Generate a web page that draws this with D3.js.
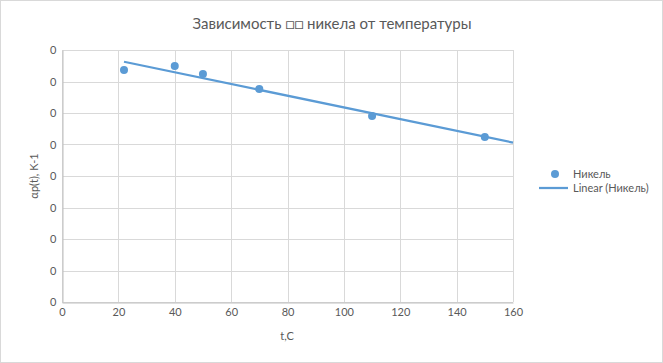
<!DOCTYPE html>
<html>
<head>
<meta charset="utf-8">
<script src="https://cdn.jsdelivr.net/npm/d3@7"></script>
<style>
  body { margin: 0; background: #fff; }
  svg text { font-family: Lato, "Open Sans", sans-serif; fill: #595959; }
</style>
</head>
<body>
<div id="chart"></div>
<script>
// data (values in K-1)
var temps = [22, 40, 50, 70, 110, 150];
var alphas = [14.73e-6, 14.98e-6, 14.48e-6, 13.52e-6, 11.81e-6, 10.48e-6];
var xTicks = [0, 20, 40, 60, 80, 100, 120, 140, 160];
var yTicks = [0, 2e-6, 4e-6, 6e-6, 8e-6, 10e-6, 12e-6, 14e-6, 16e-6];
var seriesName = "Никель";
var trendName = "Linear (Никель)";

var width = 663, height = 363;
var margin = {left: 62, right: 150, top: 50, bottom: 61};
var blue = "#5b9bd5";

var svg = d3.select("#chart").append("svg")
    .attr("width", width)
    .attr("height", height);

// chart border
svg.append("rect")
    .attr("x", 0.5).attr("y", 0.5)
    .attr("width", width - 1).attr("height", height - 1)
    .attr("fill", "#fff")
    .attr("stroke", "#d9d9d9");

var x = d3.scaleLinear().domain([0, 160]).range([margin.left, width - margin.right + 0]);
x.range([62, 513]);
var y = d3.scaleLinear().domain([0, 16e-6]).range([302, 50]);

// gridlines
svg.append("g").selectAll("line.h")
    .data(yTicks)
    .enter().append("line")
    .attr("x1", x(0)).attr("x2", x(160))
    .attr("y1", function (d) { return Math.round(y(d)) + 0.5; })
    .attr("y2", function (d) { return Math.round(y(d)) + 0.5; })
    .attr("stroke", "#d9d9d9");

svg.append("g").selectAll("line.v")
    .data(xTicks)
    .enter().append("line")
    .attr("y1", y(0)).attr("y2", y(16e-6))
    .attr("x1", function (d) { return Math.round(x(d)) + 0.5; })
    .attr("x2", function (d) { return Math.round(x(d)) + 0.5; })
    .attr("stroke", "#d9d9d9");

// axes
var xAxis = svg.append("g")
    .attr("transform", "translate(0," + (Math.round(y(0)) + 0.5) + ")")
    .call(d3.axisBottom(x).tickValues(xTicks).tickSize(0).tickPadding(6));
var yAxis = svg.append("g")
    .attr("transform", "translate(" + (Math.round(x(0)) + 0.5) + ",0)")
    .call(d3.axisLeft(y).tickValues(yTicks).tickFormat(d3.format(".0f")).tickSize(0).tickPadding(6));

[xAxis, yAxis].forEach(function (a) {
    a.select(".domain").attr("stroke", "#bfbfbf");
    a.selectAll("text").attr("font-size", 11).attr("fill", "#595959")
        .style("font-family", "Lato, sans-serif");
});

// linear trendline (least squares), forecast forward to 160
var n = temps.length,
    mt = d3.mean(temps),
    ma = d3.mean(alphas),
    sxy = 0, sxx = 0, i;
for (i = 0; i < n; i += 1) {
    sxy += (temps[i] - mt) * (alphas[i] - ma);
    sxx += (temps[i] - mt) * (temps[i] - mt);
}
var slope = sxy / sxx, icpt = ma - slope * mt;
var trendX = [d3.min(temps), 160];

svg.append("path")
    .datum(trendX)
    .attr("fill", "none")
    .attr("stroke", blue)
    .attr("stroke-width", 2.25)
    .attr("d", d3.line()
        .x(function (d) { return x(d); })
        .y(function (d) { return y(icpt + slope * d); }));

// points
svg.append("g").selectAll("circle")
    .data(temps)
    .enter().append("circle")
    .attr("cx", function (d) { return x(d); })
    .attr("cy", function (d, j) { return y(alphas[j]); })
    .attr("r", 4)
    .attr("fill", blue);

// title
svg.append("text")
    .attr("x", 332).attr("y", 29)
    .attr("text-anchor", "middle")
    .attr("font-size", 15)
    .text("Зависимость \u25A1\u25A1 никела от температуры");

// axis titles
svg.append("text")
    .attr("x", 287).attr("y", 340)
    .attr("text-anchor", "middle")
    .attr("font-size", 11)
    .text("t,C");

svg.append("text")
    .attr("transform", "translate(38,176) rotate(-90)")
    .attr("text-anchor", "middle")
    .attr("font-size", 11)
    .text("αр(t), K-1");

// legend
var lg = svg.append("g");
lg.append("circle")
    .attr("cx", 555).attr("cy", 174).attr("r", 4)
    .attr("fill", blue);
lg.append("text")
    .attr("x", 573).attr("y", 178)
    .attr("font-size", 11)
    .text(seriesName);
lg.append("line")
    .attr("x1", 539).attr("x2", 568)
    .attr("y1", 188).attr("y2", 188)
    .attr("stroke", blue).attr("stroke-width", 2.25);
lg.append("text")
    .attr("x", 573).attr("y", 192)
    .attr("font-size", 11)
    .text(trendName);
</script>
</body>
</html>
